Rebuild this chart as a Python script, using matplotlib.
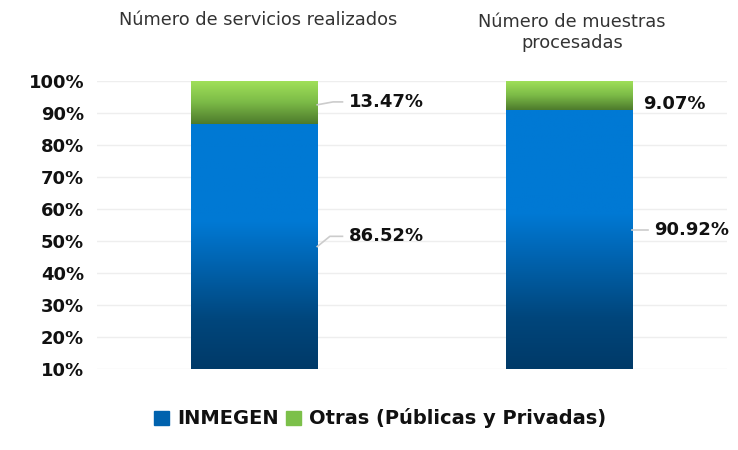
import matplotlib
matplotlib.use("Agg")
import matplotlib.pyplot as plt
import numpy as np
from matplotlib.colors import LinearSegmentedColormap
from matplotlib.patches import Rectangle

categories = ["Número de servicios realizados", "Número de muestras\nprocesadas"]
inmegen = [86.52, 90.92]
otras = [13.47, 9.07]
series_names = ["INMEGEN", "Otras (Públicas y Privadas)"]
yticks = [10, 20, 30, 40, 50, 60, 70, 80, 90, 100]
ytick_labels = ["10%", "20%", "30%", "40%", "50%", "60%", "70%", "80%", "90%", "100%"]

plt.rcParams['font.family'] = ['DejaVu Sans']

fig = plt.figure(figsize=(7.38, 4.5), dpi=100)
ax = fig.add_axes([0.131, 0.18, 0.854, 0.64])

x = np.arange(len(categories))
w = 0.4
b1 = ax.bar(x, inmegen, w, color="#0078d4", zorder=2)
b2 = ax.bar(x, otras, w, bottom=inmegen, color="#8fd150", zorder=2)

blue_cmap = LinearSegmentedColormap.from_list(
    "b", [(0, "#003a68"), (0.2, "#00467c"), (0.45, "#0066b4"), (0.6, "#0079d4"), (1, "#0079d4")])
green_cmap = LinearSegmentedColormap.from_list(
    "g", [(0, "#4d7a2c"), (0.5, "#7cbb47"), (1, "#a2e25a")])

ylo, yhi = 10, 100

def grad(patch, cmap):
    px, py = patch.get_x(), patch.get_y()
    pw, ph = patch.get_width(), patch.get_height()
    lo = max(py, ylo)
    img = np.linspace(0, 1, 256).reshape(-1, 1)
    im = ax.imshow(img, cmap=cmap, origin="lower", aspect="auto",
                   extent=[px, px + pw, lo, py + ph], zorder=3,
                   interpolation="bilinear")
    im.set_clip_path(patch)

for p in b1:
    grad(p, blue_cmap)
for p in b2:
    grad(p, green_cmap)

ax.set_xlim(-0.5, 1.5)
ax.set_ylim(ylo, yhi)
ax.set_yticks(yticks)
ax.set_yticklabels(ytick_labels, fontsize=13, fontweight="bold", color="#111111")
ax.set_xticks([])
ax.tick_params(axis="y", length=0, pad=9)
ax.grid(axis="y", color="#eeeeee", linewidth=1, zorder=0)
for s in ax.spines.values():
    s.set_visible(False)

# category labels on top
title_y = [0.955, 0.928]
title_x = [0.35, 0.775]
for i, c in enumerate(categories):
    fig.text(title_x[i], title_y[i], c, ha="center", va="center",
             fontsize=12.8, color="#333333", linespacing=1.2)

# value labels with leader lines
lc = "#cccccc"
lab = dict(fontsize=13, fontweight="bold", va="center", ha="left", color="#111111")
# bar 1, green
yg = 100 - otras[0] / 2
ax.plot([x[0] + w / 2, x[0] + w / 2 + 0.05, x[0] + w / 2 + 0.08],
        [yg - 0.7, yg + 0.2, yg + 0.2], color=lc, lw=1.2, zorder=4, clip_on=False)
ax.text(x[0] + w / 2 + 0.1, yg + 0.2, f"{otras[0]:.2f}%", **lab)
# bar 1, blue
yb = (ylo + inmegen[0]) / 2
ax.plot([x[0] + w / 2, x[0] + w / 2 + 0.04, x[0] + w / 2 + 0.08],
        [yb, yb + 3.2, yb + 3.2], color=lc, lw=1.2, zorder=4, clip_on=False)
ax.text(x[0] + w / 2 + 0.1, yb + 3.2, f"{inmegen[0]:.2f}%", **lab)
# bar 2, green
ax.text(x[1] + w / 2 + 0.035, 100 - otras[1] / 2 - 2.7, f"{otras[1]:.2f}%", **lab)
# bar 2, blue
yb2 = (ylo + inmegen[1]) / 2 + 2.9
ax.plot([x[1] + w / 2, x[1] + w / 2 + 0.05], [yb2, yb2],
        color=lc, lw=1.2, zorder=4, clip_on=False)
ax.text(x[1] + w / 2 + 0.07, yb2, f"{inmegen[1]:.2f}%", clip_on=False, **lab)

# legend
handles = [Rectangle((0, 0), 1, 1, color="#0062ae"), Rectangle((0, 0), 1, 1, color="#7cc04a")]
leg = fig.legend(handles, series_names, loc="center", bbox_to_anchor=(0.515, 0.07),
                 ncol=2, frameon=False, handlelength=0.75, handleheight=0.75,
                 handletextpad=0.4, columnspacing=0.4,
                 prop={"size": 14, "weight": "bold"})
for t in leg.get_texts():
    t.set_color("#111111")

fig.savefig("out.png", dpi=100)
